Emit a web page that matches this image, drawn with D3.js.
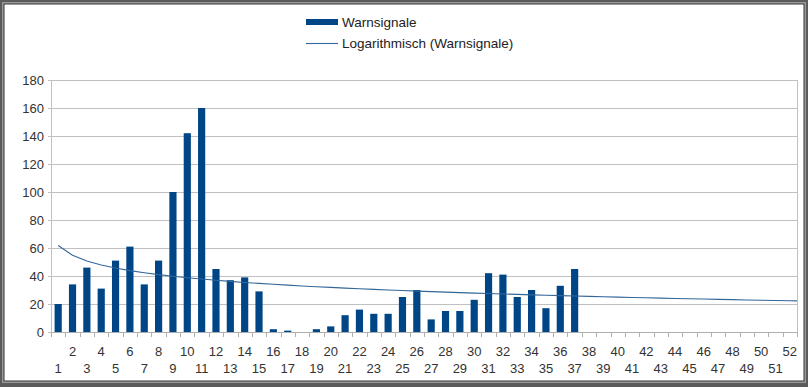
<!DOCTYPE html>
<html lang="de">
<head>
<meta charset="UTF-8">
<title>Warnsignale</title>
<script src="https://d3js.org/d3.v7.min.js"></script>
<style>
	body{margin:0;background:#fff}
	svg{display:block;font-family:"Liberation Sans",Arial,sans-serif}
</style>
</head>
<body>
<svg id="chart" width="808" height="387"></svg>
<script>
// Kalenderwochen 1..52
var weeks = d3.range(1, 53)
// Warnsignale pro Woche (ab Woche 38 keine Daten)
var warnsignale = [20, 34, 46, 31, 51, 61, 34, 51, 100, 142,
	160, 45, 37, 39, 29, 2, 1, 0, 2, 4,
	12, 16, 13, 13, 25, 30, 9, 15, 15, 23,
	42, 41, 25, 30, 17, 33, 45]
var yTicks = [0, 20, 40, 60, 80, 100, 120, 140, 160, 180]
var seriesName = "Warnsignale"
var trendName = "Logarithmisch (Warnsignale)"

var svg = d3.select("#chart")
var W = 808, H = 387
var margin = {top: 80, right: 11, bottom: 55, left: 51}

// frame
svg.append("rect").attr("x", 0).attr("y", 0).attr("width", W).attr("height", H).attr("fill", "#5b5b5b")
svg.append("rect").attr("x", 2).attr("y", 2).attr("width", W - 4).attr("height", H - 6).attr("fill", "#9a9a9a")
svg.append("rect").attr("x", 4).attr("y", 4).attr("width", W - 8).attr("height", H - 10).attr("fill", "#fff")
	.attr("stroke", "#333").attr("stroke-width", 1)

var x = d3.scaleBand().domain(weeks).range([margin.left, W - margin.right]).paddingInner(0.5).paddingOuter(0.25)
var xs = d3.scaleBand().domain(weeks).range([margin.left, W - margin.right])
var xl = d3.scaleLinear().domain([0.5, 52.5]).range([margin.left, W - margin.right])
var y = d3.scaleLinear().domain([0, 180]).range([H - margin.bottom, margin.top])

// log trend via least squares on ln(x)
var pts = warnsignale.map(function (v, i) { return [Math.log(i + 1), v] })
var mx = d3.mean(pts, function (p) { return p[0] }), my = d3.mean(pts, function (p) { return p[1] })
var a = d3.sum(pts, function (p) { return (p[0] - mx) * (p[1] - my) }) / d3.sum(pts, function (p) { return (p[0] - mx) * (p[0] - mx) })
var b = my - a * mx

var g = svg.append("g")

// grid
g.selectAll(".grid").data(yTicks).enter().append("line")
	.attr("x1", margin.left - 3).attr("x2", W - margin.right)
	.attr("y1", function (d) { return Math.round(y(d)) + 0.5 }).attr("y2", function (d) { return Math.round(y(d)) + 0.5 })
	.attr("stroke", "#c0c0c0").attr("stroke-width", 1)
g.append("line").attr("x1", margin.left + 0.5).attr("x2", margin.left + 0.5)
	.attr("y1", y(180)).attr("y2", y(0)).attr("stroke", "#c0c0c0")
g.append("line").attr("x1", W - margin.right + 0.5).attr("x2", W - margin.right + 0.5)
	.attr("y1", y(180)).attr("y2", y(0)).attr("stroke", "#c0c0c0")

// y labels
g.selectAll(".ylab").data(yTicks).enter().append("text")
	.attr("x", margin.left - 7).attr("y", function (d) { return y(d) + 5 })
	.attr("text-anchor", "end").attr("font-size", 13).attr("fill", "#333")
	.text(function (d) { return d })

// x axis ticks
var bounds = d3.range(0, 53)
g.selectAll(".xt").data(bounds).enter().append("line")
	.attr("x1", function (d) { return Math.round(margin.left + d * xs.step()) + 0.5 })
	.attr("x2", function (d) { return Math.round(margin.left + d * xs.step()) + 0.5 })
	.attr("y1", y(0)).attr("y2", y(0) + 5).attr("stroke", "#b0b0b0")

// bars
g.selectAll(".bar").data(warnsignale).enter().append("rect")
	.attr("x", function (d, i) { return x(weeks[i]) })
	.attr("width", x.bandwidth())
	.attr("y", function (d) { return y(d) })
	.attr("height", function (d) { return y(0) - y(d) })
	.attr("fill", "#004586")

// axis line
g.append("line").attr("x1", margin.left).attr("x2", W - margin.right)
	.attr("y1", Math.round(y(0)) + 0.5).attr("y2", Math.round(y(0)) + 0.5).attr("stroke", "#b0b0b0")

// trend line (runs to the right edge of the plot)
var trendX = weeks.concat([52.5])
var line = d3.line().x(function (d) { return xl(d) }).y(function (d) { return y(a * Math.log(d) + b) })
g.append("path").datum(trendX).attr("d", line).attr("fill", "none").attr("stroke", "#336699").attr("stroke-width", 1.1)

// x labels
g.selectAll(".xlab").data(weeks).enter().append("text")
	.attr("x", function (d) { return xs(d) + xs.bandwidth() / 2 })
	.attr("y", function (d) { return d % 2 == 0 ? 356 : 373 })
	.attr("text-anchor", "middle").attr("font-size", 13).attr("fill", "#333")
	.text(function (d) { return d })

// legend
var lg = svg.append("g")
lg.append("rect").attr("x", 306).attr("y", 19).attr("width", 32).attr("height", 6).attr("fill", "#004586")
lg.append("text").attr("x", 342).attr("y", 27).attr("font-size", 13.5).attr("fill", "#222").text(seriesName)
lg.append("line").attr("x1", 306).attr("x2", 338).attr("y1", 43.5).attr("y2", 43.5).attr("stroke", "#336699").attr("stroke-width", 1.1)
lg.append("text").attr("x", 342).attr("y", 48).attr("font-size", 13.5).attr("fill", "#222").text(trendName)
</script>
</body>
</html>
